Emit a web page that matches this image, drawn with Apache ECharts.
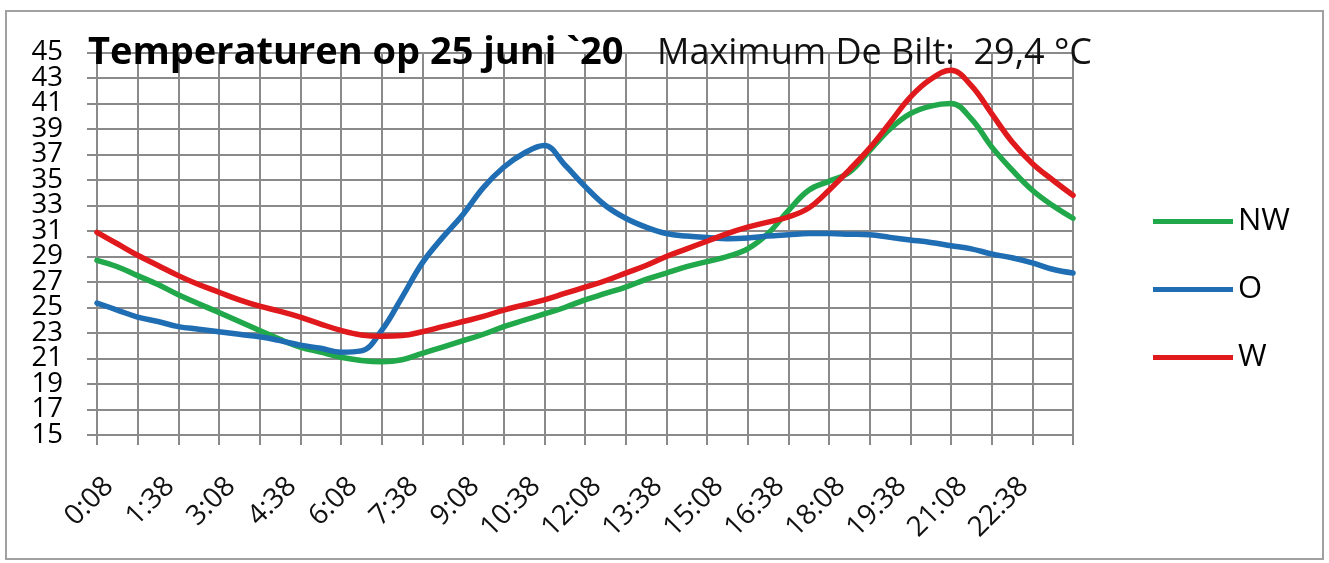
<!DOCTYPE html>
<html>
<head>
<meta charset="utf-8">
<script src="https://cdn.jsdelivr.net/npm/echarts@6/dist/echarts.min.js"></script>
<style>
  html, body { margin: 0; padding: 0; background: #fff; }
  #char { width: 1329px; height: 563px; }
</style>
</head>
<body>
<div id="char"></div>
<script>
// temperaturen 25 juni, elk half uur
const times = [
  '0:08', '0:38', '1:08', '1:38', '2:08', '2:38', '3:08', '3:38', '4:08', '4:38',
  '5:08', '5:38', '6:08', '6:38', '7:08', '7:38', '8:08', '8:38', '9:08', '9:38',
  '10:08', '10:38', '11:08', '11:38', '12:08', '12:38', '13:08', '13:38', '14:08', '14:38',
  '15:08', '15:38', '16:08', '16:38', '17:08', '17:38', '18:08', '18:38', '19:08', '19:38',
  '20:08', '20:38', '21:08', '21:38', '22:08', '22:38', '23:08', '23:38', '24:08'
];
const nw = [
  28.7, 28.2, 27.5, 26.8, 26.0, 25.3, 24.6, 23.9, 23.2, 22.5,
  21.9, 21.5, 21.1, 20.85, 20.75, 20.9, 21.4, 21.9, 22.4, 22.9,
  23.5, 24.0, 24.5, 25.0, 25.6, 26.1, 26.6, 27.2, 27.7, 28.2,
  28.6, 29.0, 29.6, 30.8, 32.6, 34.2, 34.9, 35.6, 37.3, 39.0,
  40.2, 40.8, 41.0, 39.8, 37.6, 35.8, 34.2, 33.0, 32.0
];
const o = [
  25.35, 24.8, 24.25, 23.9, 23.5, 23.3, 23.1, 22.9, 22.7, 22.4,
  22.05, 21.8, 21.5, 21.6, 23.2, 25.8, 28.5, 30.5, 32.3, 34.4,
  36.0, 37.1, 37.7, 36.2, 34.5, 33.0, 32.0, 31.3, 30.8, 30.6,
  30.5, 30.4, 30.45, 30.6, 30.7, 30.8, 30.8, 30.75, 30.7, 30.5,
  30.3, 30.1, 29.85, 29.6, 29.2, 28.9, 28.5, 28.0, 27.7
];
const w = [
  30.9, 30.0, 29.1, 28.3, 27.5, 26.8, 26.2, 25.6, 25.1, 24.7,
  24.25, 23.7, 23.2, 22.85, 22.75, 22.8, 23.1, 23.5, 23.9, 24.3,
  24.8, 25.2, 25.6, 26.1, 26.6, 27.1, 27.7, 28.3, 29.0, 29.6,
  30.2, 30.8, 31.3, 31.7, 32.1, 32.8, 34.2, 35.8, 37.5, 39.5,
  41.5, 42.9, 43.6, 42.4, 40.2, 38.0, 36.3, 35.0, 33.8
];
const yLabels = [15, 17, 19, 21, 23, 25, 27, 29, 31, 33, 35, 37, 39, 41, 43, 45];
const seriesNames = ['NW', 'O', 'W'];
const colors = ['#21a84a', '#1f6db3', '#e0191c'];

const charEle = document.getElementById('char');
const charEch = echarts.init(charEle);
const gridColor = '#8a8a8a';
const font = 'Open Sans';

// labels staan dicht op elkaar: verdeeld over twee assen zodat echarts niets verbergt
function yAxisFor(labels, main) {
  return {
    type: 'value',
    position: 'left',
    min: 15,
    max: 45,
    interval: 2,
    axisLine: { show: false },
    axisTick: { show: main, length: 10, lineStyle: { color: gridColor, width: 2 } },
    splitLine: { show: main, lineStyle: { color: gridColor, width: 2 } },
    axisLabel: {
      margin: 34,
      customValues: labels,
      showMinLabel: true,
      showMaxLabel: true,
      fontFamily: font,
      fontSize: 27.5,
      color: '#000'
    }
  };
}

const option = {
  animation: false,
  color: colors,
  graphic: [
    {
      type: 'rect',
      shape: { x: 6, y: 11, width: 1317, height: 548 },
      style: { fill: 'none', stroke: '#a0a0a0', lineWidth: 2 }
    }
  ],
  title: [
    {
      text: 'Temperaturen op 25 juni `20',
      left: 88,
      top: 34,
      padding: 0,
      textStyle: { fontFamily: font, fontWeight: 'bold', fontSize: 38, color: '#000' }
    },
    {
      text: 'Maximum De Bilt:  29,4 °C',
      left: 657,
      top: 36,
      padding: 0,
      textStyle: { fontFamily: font, fontWeight: 'normal', fontSize: 36, color: '#111' }
    }
  ],
  legend: {
    orient: 'vertical',
    left: 1153,
    top: 206,
    padding: 0,
    icon: 'rect',
    itemWidth: 80,
    itemHeight: 5,
    itemGap: 37,
    textStyle: { fontFamily: font, fontSize: 31, lineHeight: 30, color: '#000' },
    data: seriesNames
  },
  grid: {
    left: 97,
    right: 256,
    top: 52.5,
    bottom: 128,
    containLabel: false
  },
  xAxis: {
    type: 'category',
    boundaryGap: false,
    data: times,
    axisLine: { show: true, lineStyle: { color: gridColor, width: 2 } },
    axisTick: { show: true, interval: 1, length: 10, lineStyle: { color: gridColor, width: 2 } },
    splitLine: { show: true, interval: 1, lineStyle: { color: gridColor, width: 2 } },
    axisLabel: {
      interval: function (idx) { return idx % 3 === 0 && idx < 48; },
      rotate: 45,
      margin: 59,
      padding: [0, -17, 0, 0],
      fontFamily: font,
      fontSize: 28,
      color: '#111'
    }
  },
  yAxis: [
    yAxisFor(yLabels.filter(function (v, i) { return i % 2 === 0; }), true),
    yAxisFor(yLabels.filter(function (v, i) { return i % 2 === 1; }), false)
  ],
  series: []
};

[nw, o, w].forEach(function (vals, k) {
  option.series.push({
    name: seriesNames[k],
    type: 'line',
    yAxisIndex: 0,
    smooth: 0.4,
    showSymbol: false,
    symbol: 'none',
    data: vals,
    lineStyle: { width: 5.5, color: colors[k], cap: 'round', join: 'round' },
    itemStyle: { color: colors[k] },
    z: 3 + k
  });
});

charEch.setOption(option, true);
</script>
</body>
</html>
